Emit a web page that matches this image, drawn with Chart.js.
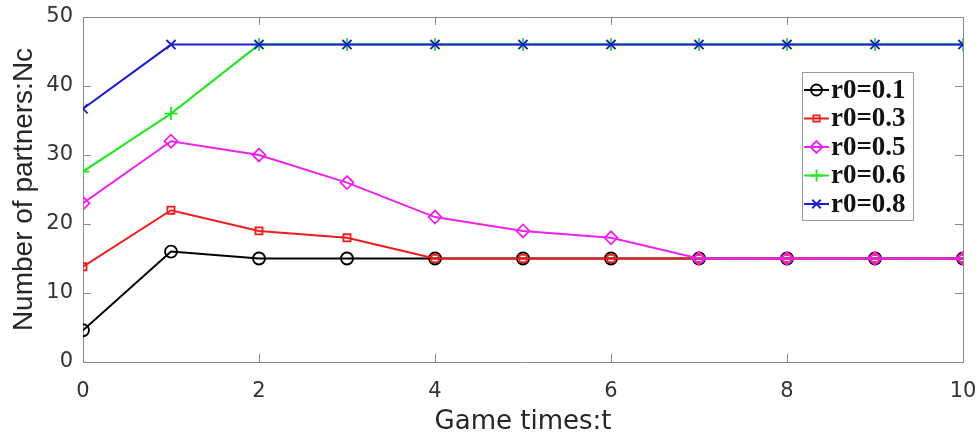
<!DOCTYPE html>
<html>
<head>
<meta charset="utf-8">
<script src="https://cdn.jsdelivr.net/npm/chart.js@4.4.1/dist/chart.umd.min.js"></script>
<style>
  html,body{margin:0;padding:0;background:#fff;}
  #wrap{width:979px;height:436px;}
</style>
</head>
<body>
<div id="wrap"><canvas id="c" width="979" height="436"></canvas></div>
<script>
/* -------------------- Data -------------------- */
const gameTimes = [0,1,2,3,4,5,6,7,8,9,10];
const seriesNames = ['r0=0.1','r0=0.3','r0=0.5','r0=0.6','r0=0.8'];
const nc01 = [4.6,16,15,15,15,15,15,15,15,15,15];
const nc03 = [13.8,22,19,18,15,15,15,15,15,15,15];
const nc05 = [23,32,30,26,21,19,18,15,15,15,15];
const nc06 = [27.6,36,46,46,46,46,46,46,46,46,46];
const nc08 = [36.7,46,46,46,46,46,46,46,46,46,46];
const xTicks = [0,2,4,6,8,10];
const yTicks = [0,10,20,30,40,50];

/* -------------------- Styles -------------------- */
const styles = [
  {color:'#000000', point:'circle',  radius:6},
  {color:'#ee1c1c', point:'rect',    radius:5},
  {color:'#ee22ee', point:'rectRot', radius:6.5},
  {color:'#22e622', point:'cross',   radius:6.5},
  {color:'#1c1cd0', point:'crossRot',radius:6.5}
];
const axisGray = '#8a8a8a';
const tickFont = {family:'"DejaVu Sans"', size:21};

function pts(arr){ return arr.map((v,i)=>({x:gameTimes[i], y:v})); }
const allSeries = [nc01,nc03,nc05,nc06,nc08];

const datasets = allSeries.map((s,i)=>({
  label: seriesNames[i],
  data: pts(s),
  borderColor: styles[i].color,
  borderWidth: 2,
  pointStyle: styles[i].point,
  pointRadius: styles[i].radius,
  pointBorderWidth: 1.8,
  pointBorderColor: styles[i].color,
  pointBackgroundColor: 'rgba(0,0,0,0)',
  tension: 0,
  order: allSeries.length - i
}));

// keep the plot box fixed: no extra room for overhanging tick labels
function noPad(s){ s.paddingLeft = 0; s.paddingRight = 0; s.paddingTop = 0; s.paddingBottom = 0; }

/* -------------------- Plugins -------------------- */
// MATLAB style inward tick marks on all four sides
const innerTicks = {
  id:'innerTicks',
  afterDatasetsDraw(chart){
    const {ctx, chartArea:a, scales} = chart;
    const len = 8;
    ctx.save();
    ctx.strokeStyle = axisGray;
    ctx.lineWidth = 1;
    ctx.beginPath();
    xTicks.forEach(v=>{
      const px = Math.round(scales.x.getPixelForValue(v)) + 0.5;
      ctx.moveTo(px, a.bottom); ctx.lineTo(px, a.bottom - len);
      ctx.moveTo(px, a.top); ctx.lineTo(px, a.top + len);
    });
    yTicks.forEach(v=>{
      const py = Math.round(scales.y.getPixelForValue(v)) + 0.5;
      ctx.moveTo(a.left, py); ctx.lineTo(a.left + len, py);
      ctx.moveTo(a.right, py); ctx.lineTo(a.right - len, py);
    });
    ctx.stroke();
    ctx.restore();
  }
};

// legend box inside the plot, upper right
const boxLegend = {
  id:'boxLegend',
  afterDraw(chart){
    const ctx = chart.ctx;
    const bx = 802, by = 72, bw = 111, bh = 148;
    const rowH = 28.5, firstRow = 90;
    ctx.save();
    ctx.fillStyle = '#ffffff';
    ctx.fillRect(bx, by, bw, bh);
    ctx.strokeStyle = '#9a9a9a';
    ctx.lineWidth = 1;
    ctx.strokeRect(bx + 0.5, by + 0.5, bw, bh);
    chart.data.datasets.forEach((ds,i)=>{
      const y = firstRow + i*rowH;
      ctx.strokeStyle = ds.borderColor;
      ctx.lineWidth = 2;
      ctx.beginPath();
      ctx.moveTo(804, y); ctx.lineTo(829, y);
      ctx.stroke();
      ctx.fillStyle = 'rgba(0,0,0,0)';
      ctx.lineWidth = 1.8;
      Chart.helpers.drawPoint(ctx, {pointStyle: ds.pointStyle, radius: ds.pointRadius - 0.5, borderWidth: 1.8, rotation: 0}, 816.5, y);
      ctx.fillStyle = '#111';
      ctx.font = 'bold 27px "Liberation Serif"';
      ctx.textBaseline = 'middle';
      ctx.textAlign = 'left';
      ctx.fillText(ds.label, 831, y + 1);
    });
    ctx.restore();
  }
};

/* -------------------- Chart -------------------- */
new Chart(document.getElementById('c'), {
  type:'line',
  data:{ datasets },
  options:{
    responsive:false,
    animation:false,
    layout:{ padding:0 },
    plugins:{ legend:{display:false}, tooltip:{enabled:false} },
    scales:{
      x:{
        type:'linear', position:'bottom', min:0, max:10,
        afterFit: s => { s.height = 74; noPad(s); },
        afterBuildTicks: s => { s.ticks = xTicks.map(v=>({value:v})); },
        grid:{ drawOnChartArea:false, drawTicks:false },
        border:{ color:axisGray, width:1 },
        ticks:{ color:'#333', font:tickFont, padding:17, maxRotation:0 },
        title:{ display:true, text:'Game times:t', color:'#262626',
                font:{family:'"DejaVu Sans"', size:26, lineHeight:1.05}, padding:{top:0,bottom:0} }
      },
      y:{
        type:'linear', position:'left', min:0, max:50,
        afterFit: s => { s.width = 83; noPad(s); },
        afterBuildTicks: s => { s.ticks = yTicks.map(v=>({value:v})); },
        grid:{ drawOnChartArea:false, drawTicks:false },
        border:{ color:axisGray, width:1 },
        ticks:{ color:'#333', font:tickFont, padding:10 },
        title:{ display:true, text:'Number of partners:Nc', color:'#262626',
                font:{family:'"Liberation Sans"', size:28}, padding:{top:7,bottom:0} }
      },
      x2:{
        type:'linear', position:'top', min:0, max:10, display:true,
        afterFit: s => { s.height = 17; noPad(s); },
        grid:{ drawOnChartArea:false, drawTicks:false },
        border:{ color:axisGray, width:1 },
        ticks:{ display:false }
      },
      y2:{
        type:'linear', position:'right', min:0, max:50, display:true,
        afterFit: s => { s.width = 16; noPad(s); },
        grid:{ drawOnChartArea:false, drawTicks:false },
        border:{ color:axisGray, width:1 },
        ticks:{ display:false }
      }
    }
  },
  plugins:[innerTicks, boxLegend]
});
</script>
</body>
</html>
